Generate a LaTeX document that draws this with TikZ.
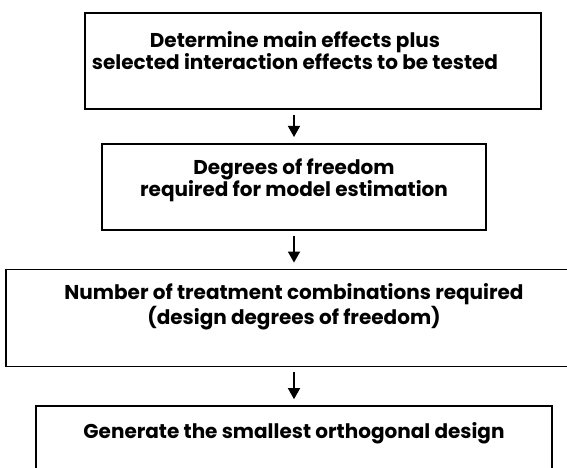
\documentclass[tikz,border=0pt]{standalone}
\usepackage{fontspec}
\setmainfont{Poppins}
\usetikzlibrary{positioning,arrows.meta}

\begin{document}
\begin{tikzpicture}[x=1pt,y=-1pt,->,>={Triangle[length=11pt,width=12pt]},
            stage/.style={draw,line width=1.6pt,rectangle,inner sep=0pt},
            caption/.style={align=center,anchor=north,inner sep=0pt,
                font=\fontsize{20}{22}\selectfont\bfseries},
            flow/.style={line width=1.4pt,shorten <=5pt,shorten >=6pt}]

        \useasboundingbox (0,0) rectangle (567,468);
        \clip (0,0) rectangle (567,468);

        % Define boxes
        \node[stage,minimum width=456pt,minimum height=96pt,anchor=north] (effects) at (313,12) {};
        \node[stage,minimum width=384pt,minimum height=86pt,anchor=north] (dof) at (294,143) {};
        \node[stage,minimum width=576pt,minimum height=97pt] (runs) [below=38pt of dof] {};
        \node[stage,minimum width=516pt,minimum height=100pt] (design) [below=38pt of runs] {};

        % Texts
        \node[caption] (effectstext) at (295,31)
            {Determine main effects plus\\selected interaction effects to be tested};
        \node[caption] (doftext) [below=16pt of dof.north]
            {Degrees of freedom\\required for model estimation};
        \node[caption] (runstext) [below=15pt of runs.north]
            {Number of treatment combinations required\\(design degrees of freedom)};
        \node[caption] (designtext) [below=17pt of design.north]
            {Generate the smallest orthogonal design};

        % Draw arrows
        \path[flow]
            (dof.north |- effects.south) edge (dof.north)
            (dof) edge (runs)
            (runs) edge (design);

        \end{tikzpicture}
\end{document}
